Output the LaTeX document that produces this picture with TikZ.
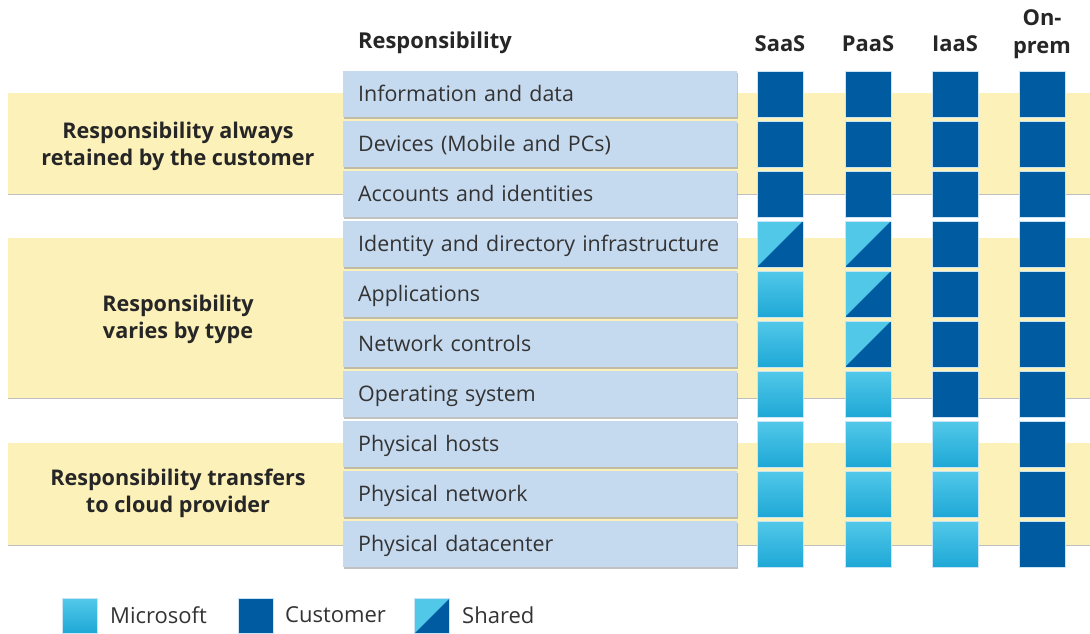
\documentclass[tikz,border=0pt]{standalone}
\usepackage{fontspec}
\setmainfont{Open Sans}
\usetikzlibrary{shadows}
\definecolor{bandcol}{RGB}{253,241,186}
\definecolor{rowfill}{RGB}{197,217,239}
\definecolor{custcol}{RGB}{0,91,161}
\definecolor{mstop}{RGB}{82,200,233}
\definecolor{msbot}{RGB}{30,168,214}
\definecolor{txtcol}{RGB}{51,51,51}
\definecolor{headcol}{RGB}{38,38,38}
\definecolor{edgecol}{RGB}{200,228,245}
\tikzset{
  cell/.style={minimum width=46pt, minimum height=46pt, inner sep=0pt, draw=edgecol, line width=0.7pt},
  lgcell/.style={minimum width=35pt, minimum height=35pt, inner sep=0pt, draw=edgecol, line width=0.7pt},
  C/.style={fill=custcol},
  M/.style={top color=mstop, middle color=mstop, bottom color=msbot},
  S/.style={fill=mstop, path picture={\fill[custcol] (path picture bounding box.south west) -- (path picture bounding box.north east) -- (path picture bounding box.south east) -- cycle;}},
  rowbox/.style={fill=rowfill, anchor=north west, minimum width=394pt, minimum height=46pt, text width=364pt, text height=15.5pt, text depth=0pt, inner xsep=15pt, inner ysep=0pt, align=left, text=txtcol, font=\fontsize{21.4}{25}\selectfont, drop shadow={shadow xshift=1.2pt, shadow yshift=-1.5pt, fill=black!40, opacity=0.6}},
  bandtxt/.style={align=center, text=headcol, font=\bfseries\fontsize{21.6}{27.5}\selectfont},
  headtxt/.style={text=headcol, font=\bfseries\fontsize{21.9}{28}\selectfont, inner sep=0pt},
  lgtxt/.style={text=txtcol, font=\fontsize{22}{26}\selectfont, anchor=west, inner sep=0pt},
  bandbox/.style={fill=bandcol},
}
\begin{document}
\begin{tikzpicture}[x=1pt, y=-1pt]
\useasboundingbox (0,0) rectangle (1090,633);
\fill[white] (0,0) rectangle (1090,633);
% bands
\foreach \a/\b in {93/194, 238/398, 443/545} {
  \fill[bandcol] (8,\a) rectangle (1090,\b);
  \draw[black!25, line width=1.2pt] (8,\b+0.6) -- (1090,\b+0.6);
}
\node[bandtxt] (g1) at (178,146.5) {Responsibility always\\retained by the customer};
\node[bandtxt] (g2) at (178,319.5) {Responsibility\\varies by type};
\node[bandtxt] (g3) at (178,493.5) {Responsibility transfers\\to cloud provider};
% header
\node[headtxt, anchor=west] (hresp) at (358,42.5) {Responsibility};
\node[headtxt] (hsaas) at (780,44) {SaaS};
\node[headtxt] (hpaas) at (868,44) {PaaS};
\node[headtxt] (hiaas) at (955,44) {IaaS};
\node[headtxt, align=center] (honprem) at (1042,34) {On-\\prem};
% rows
\foreach \lab [count=\i] in {Information and data, Devices (Mobile and PCs), Accounts and identities, Identity and directory infrastructure, Applications, Network controls, Operating system, Physical hosts, Physical network, Physical datacenter} {
  \node[rowbox] (row\i) at (343,{71+50*(\i-1)}) {\lab};
}
% cells
\foreach \types [count=\i] in {{C,C,C,C},{C,C,C,C},{C,C,C,C},{S,S,C,C},{M,S,C,C},{M,S,C,C},{M,M,C,C},{M,M,M,C},{M,M,M,C},{M,M,M,C}} {
  \foreach \t [count=\j] in \types {
    \pgfmathsetmacro{\cx}{{780,868,955,1042}[\j-1]}
    \node[cell, \t] (c\i-\j) at (\cx,{94+50*(\i-1)}) {};
  }
}
% legend
\node[lgcell, M] (lgm) at (79.5,616) {};
\node[lgtxt] (lgmt) at (110,615) {Microsoft};
\node[lgcell, C] (lgc) at (255.5,616) {};
\node[lgtxt] (lgct) at (285,615) {Customer};
\node[lgcell, S] (lgs) at (432,616) {};
\node[lgtxt] (lgst) at (462,615) {Shared};
\end{tikzpicture}
\end{document}
